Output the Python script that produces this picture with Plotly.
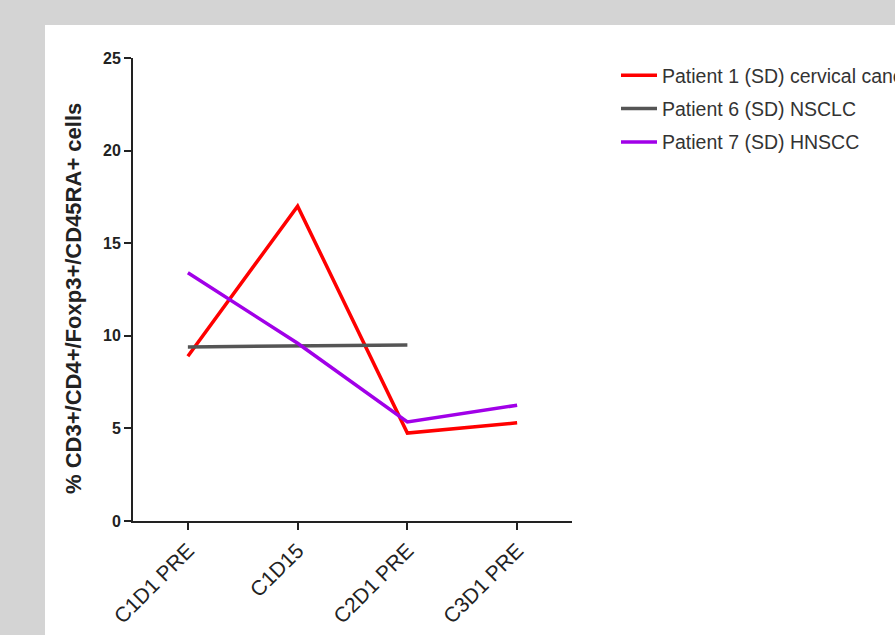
import plotly.graph_objects as go

categories = ["C1D1 PRE", "C1D15", "C2D1 PRE", "C3D1 PRE"]
patient1 = [8.9, 17.0, 4.75, 5.3]
patient6 = [9.4, None, 9.5, None]
patient7 = [13.4, 9.6, 5.35, 6.25]
names = ["Patient 1 (SD) cervical cancer", "Patient 6 (SD) NSCLC", "Patient 7 (SD) HNSCC"]
colors = ["#ff0000", "#555555", "#a100e8"]
y_ticks = [0, 5, 10, 15, 20, 25]
y_title = "% CD3+/CD4+/Foxp3+/CD45RA+ cells"

fig = go.Figure()
for i, (vals, nm, col) in enumerate(zip([patient1, patient6, patient7], names, colors)):
    fig.add_trace(go.Scatter(
        x=categories, y=vals, name=nm, mode="lines", connectgaps=True,
        line=dict(color=col, width=3.5), legendgroup=f"g{i}",
    ))

L, R, T, B = 133, 323, 58, 114
W, H = 895, 635
pw, ph = W - L - R, H - T - B

def px_x(p):
    return (p - L) / pw

def px_y(p):
    return (H - B - p) / ph

fig.add_shape(type="rect", xref="paper", yref="paper",
              x0=px_x(45), x1=px_x(900), y0=px_y(25), y1=px_y(640),
              fillcolor="white", line=dict(width=0), layer="below")

fig.add_annotation(text=y_title, xref="paper", yref="paper",
                   x=px_x(73), y=px_y(299), xanchor="center", yanchor="middle",
                   textangle=-90, showarrow=False,
                   font=dict(size=22, color="#222222", weight="bold"))

fig.update_layout(
    width=W, height=H,
    margin=dict(l=L, r=R, t=T, b=B, autoexpand=False),
    paper_bgcolor="#d4d4d4",
    plot_bgcolor="rgba(0,0,0,0)",
    font=dict(family="Liberation Sans, Arial, sans-serif", color="#222222"),
    showlegend=True,
    legend=dict(
        x=px_x(616), y=px_y(56), xanchor="left", yanchor="top",
        font=dict(size=19.5, color="#333333"),
        bgcolor="rgba(0,0,0,0)", tracegroupgap=5, itemwidth=36,
    ),
    xaxis=dict(
        type="category", range=[-0.5, 3.5],
        showline=True, linecolor="#222222", linewidth=2,
        ticks="outside", ticklen=7, tickwidth=2, tickcolor="#222222",
        tickangle=-45, tickfont=dict(size=21, color="#222222"),
        showgrid=False, zeroline=False,
    ),
    yaxis=dict(
        range=[0, 25], tickvals=y_ticks,
        showline=True, linecolor="#222222", linewidth=2,
        ticks="outside", ticklen=7, tickwidth=2, tickcolor="#222222",
        tickfont=dict(size=16, color="#222222", weight="bold"),
        showgrid=False, zeroline=False,
    ),
)

fig.write_html("out.html", config={"displayModeBar": False},
               post_script="document.body.style.margin='0';")
